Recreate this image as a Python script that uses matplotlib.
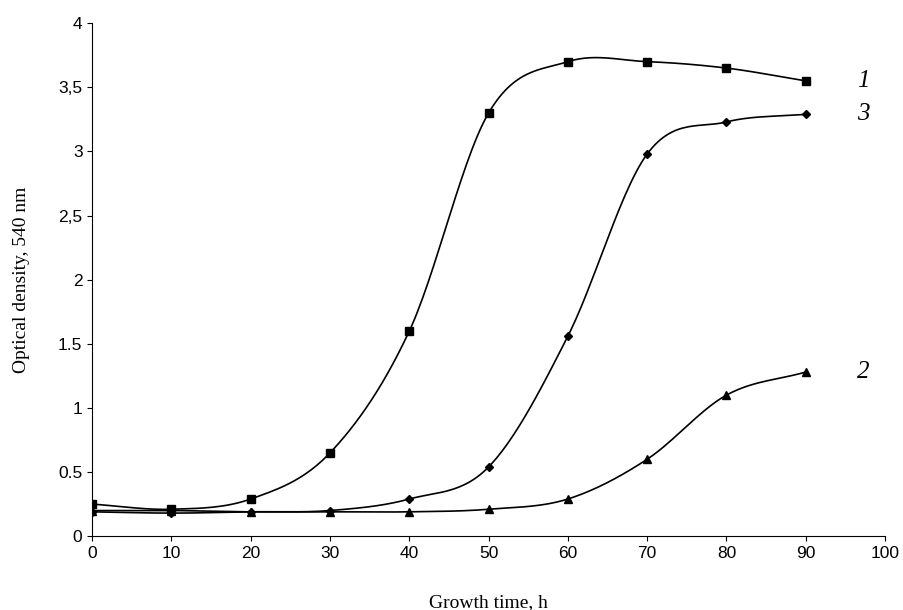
import numpy as np
import matplotlib
matplotlib.use("Agg")
import matplotlib.pyplot as plt

hours = [0, 10, 20, 30, 40, 50, 60, 70, 80, 90]
od_1 = [0.25, 0.21, 0.29, 0.65, 1.6, 3.3, 3.7, 3.7, 3.65, 3.55]
od_2 = [0.20, 0.20, 0.19, 0.19, 0.19, 0.21, 0.29, 0.60, 1.10, 1.28]
od_3 = [0.19, 0.18, 0.19, 0.20, 0.29, 0.54, 1.56, 2.98, 3.23, 3.29]
y_ticks = [0, 0.5, 1, 1.5, 2, 2.5, 3, 3.5, 4]
y_labels = ["0", "0.5", "1", "1.5", "2", "2,5", "3", "3,5", "4"]


def smooth(x, y, n=30):
    # catmull-rom through the points, like excel's smoothed line
    x = np.asarray(x, float); y = np.asarray(y, float)
    px = np.concatenate([[2 * x[0] - x[1]], x, [2 * x[-1] - x[-2]]])
    py = np.concatenate([[2 * y[0] - y[1]], y, [2 * y[-1] - y[-2]]])
    xs, ys = [], []
    t = np.linspace(0, 1, n)
    for i in range(1, len(px) - 2):
        for p, out in ((px, xs), (py, ys)):
            p0, p1, p2, p3 = p[i - 1:i + 3]
            out.extend(0.5 * (2 * p1 + (-p0 + p2) * t + (2 * p0 - 5 * p1 + 4 * p2 - p3) * t**2
                              + (-p0 + 3 * p1 - 3 * p2 + p3) * t**3))
    return xs, ys


fig = plt.figure(figsize=(9.04, 6.10), dpi=100)
ax = fig.add_axes([0.102, 0.121, 0.877, 0.841])

for y, m, ms, lab in ((od_1, "s", 6, "1"), (od_3, "D", 4.5, "3"), (od_2, "^", 6, "2")):
    sx, sy = smooth(hours, y)
    ax.plot(sx, sy, color="black", lw=1.2)
    ax.plot(hours, y, ls="none", marker=m, ms=ms, color="black")
    ax.text(hours[-1] + 6.5, y[-1], lab, family="Liberation Serif", style="italic",
            fontsize=18, va="center")

ax.set_xlim(0, 100)
ax.set_ylim(0, 4)
ax.set_xticks(range(0, 101, 10))
ax.set_yticks(y_ticks)
ax.set_yticklabels(y_labels)
for s in ("top", "right"):
    ax.spines[s].set_visible(False)
ax.tick_params(direction="out", labelsize=12.5)
for lbl in ax.get_xticklabels() + ax.get_yticklabels():
    lbl.set_family("Liberation Sans")
ax.set_xlabel("Growth time, h", family="Liberation Serif", fontsize=14, labelpad=24)
ax.set_ylabel("Optical density, 540 nm", family="Liberation Serif", fontsize=14, labelpad=20)

fig.savefig("out.png", dpi=100)
